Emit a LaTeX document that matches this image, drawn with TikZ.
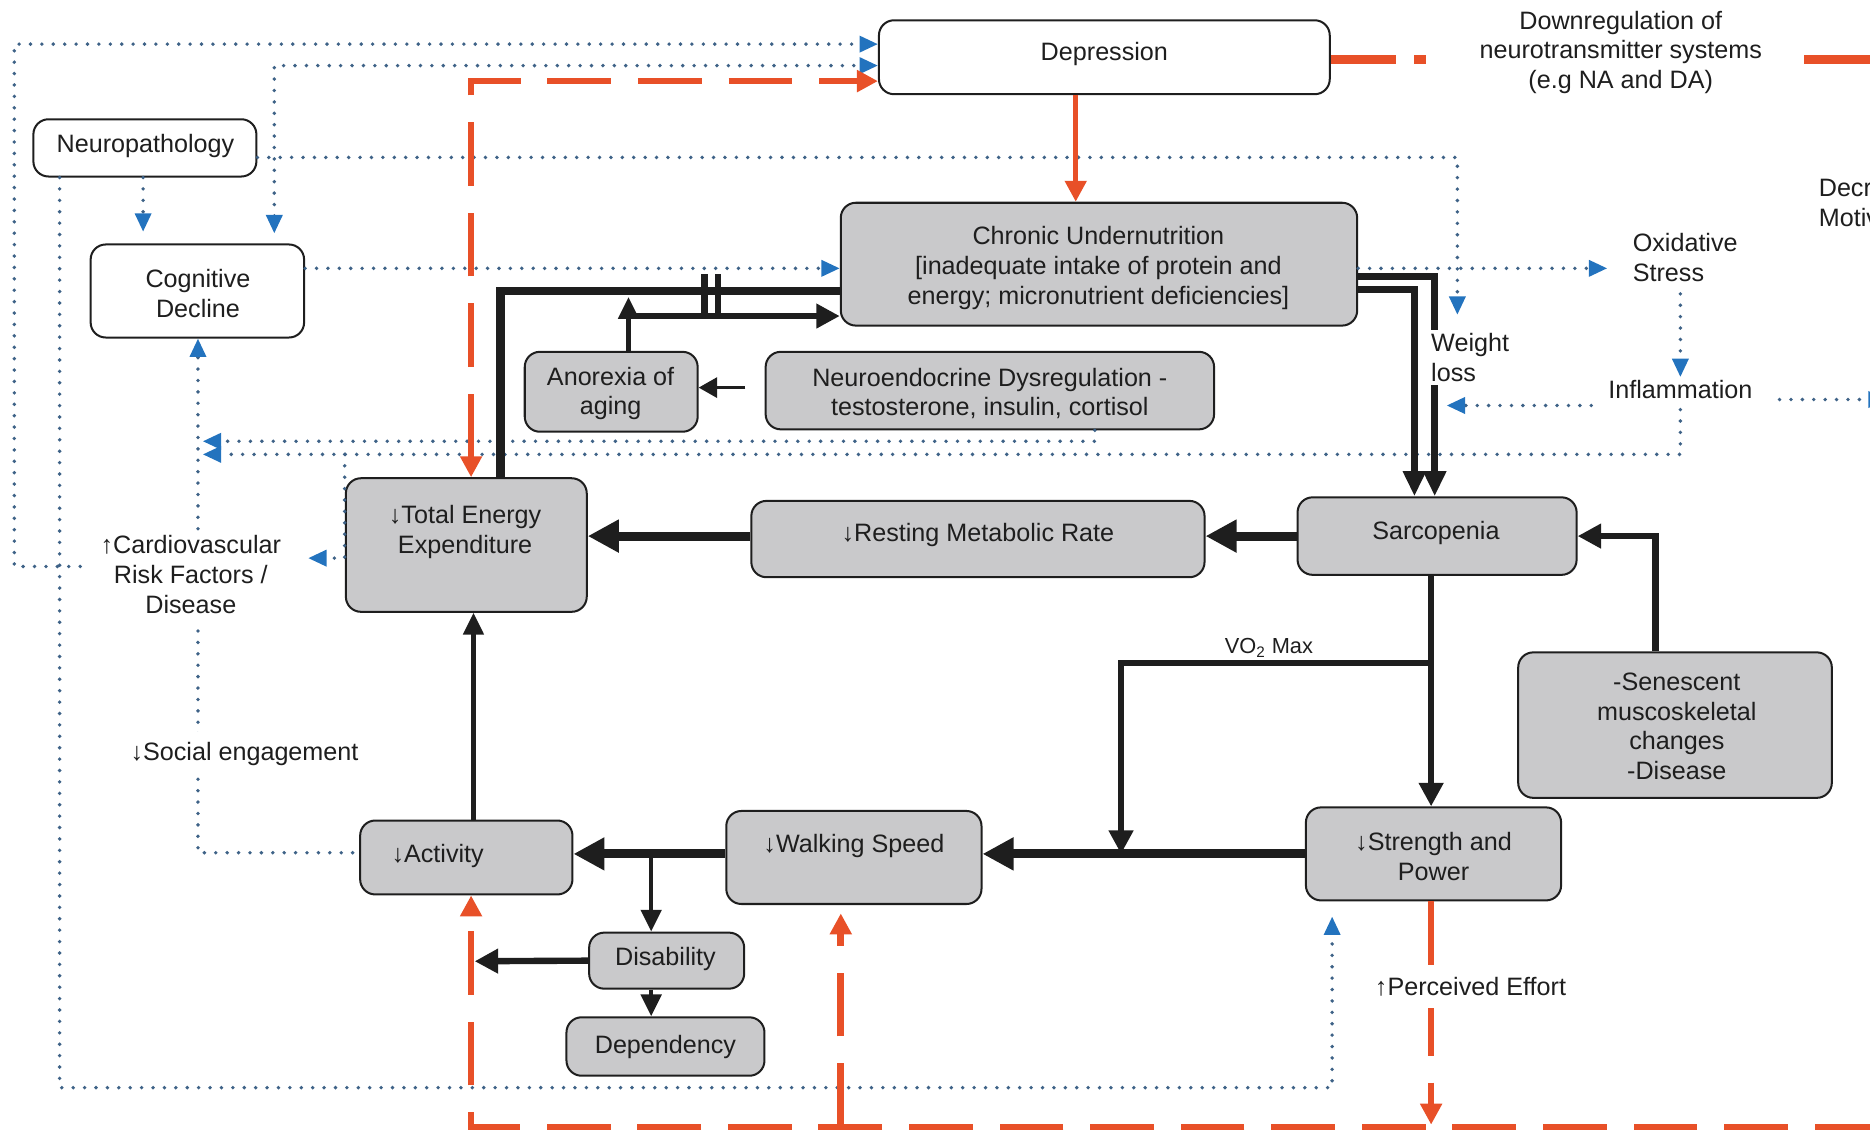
\documentclass[tikz,border=0pt]{standalone}
\usepackage{fontspec}
\setmainfont{Liberation Sans}
\usetikzlibrary{arrows.meta,fit}
\pgfdeclarelayer{fg}
\pgfsetlayers{main,fg}
\definecolor{boxgray}{RGB}{201,201,203}
\definecolor{redc}{RGB}{232,80,40}
\definecolor{bluec}{RGB}{35,115,190}
\definecolor{dotc}{RGB}{62,98,135}
\definecolor{textc}{RGB}{30,30,30}
\tikzset{
  BlueTip/.tip={Triangle[length=11pt,width=9.5pt,color=bluec]},
  RedTip/.tip={Triangle[length=12.5pt,width=12.5pt]},
  wbox/.style={draw=textc, line width=1.2pt, rounded corners=9pt, fill=white, inner sep=0pt},
  gbox/.style={wbox, fill=boxgray},
  lbl/.style={align=center, inner sep=2pt},
  blkH/.style={draw=textc, line width=5.3pt, -{Triangle[length=18.5pt,width=18.5pt]}},
  blkM/.style={draw=textc, line width=3.8pt, -{Triangle[length=14pt,width=14pt]}},
  blkL/.style={draw=textc, line width=2.6pt, -{Triangle[length=13pt,width=12pt]}},
  blkS/.style={draw=textc, line width=1.7pt, -{Triangle[length=11pt,width=12pt]}},
  redsolid/.style={draw=redc, line width=3pt, -RedTip},
  reddash/.style={draw=redc, line width=4pt, dash pattern=on 38pt off 16pt, -RedTip},
  bdot/.style={draw=dotc, line width=2.3pt, line cap=round, dash pattern=on 0pt off 6.8pt},
}
\begin{document}
\begin{tikzpicture}[x=0.025cm, y=-0.025cm,
  every node/.style={font=\fontsize{15}{17.8}\selectfont, text=textc}]
\useasboundingbox (0,0) rectangle (1568,954);
\clip (0,0) rectangle (1568,954);

% ---- boxes ----
\node[wbox, fit={(737,17)(1115,79)}] (dep) {};
\node[wbox, fit={(28,100)(215,148)}] (neuro) {};
\node[wbox, fit={(76,205)(255,283)}] (cog) {};
\node[gbox, fit={(705,170)(1138,273)}] (cu) {};
\node[gbox, fit={(440,295)(585,362)}] (anor) {};
\node[gbox, fit={(642,295)(1018,360)}] (endo) {};
\node[gbox, fit={(290,401)(492,513)}] (tee) {};
\node[gbox, fit={(630,420)(1010,484)}] (rmr) {};
\node[gbox, fit={(1088,417)(1322,482)}] (sarc) {};
\node[gbox, fit={(1273,547)(1536,669)}] (sen) {};
\node[gbox, fit={(1095,677)(1309,755)}] (str) {};
\node[gbox, fit={(609,680)(823,758)}] (ws) {};
\node[gbox, fit={(302,688)(480,750)}] (act) {};
\node[gbox, fit={(494,782)(624,829)}] (dis) {};
\node[gbox, fit={(475,853)(641,902)}] (depy) {};

% ---- texts of the boxes and free labels ----
\begin{pgfonlayer}{fg}
\node[lbl] (depT) at (926,45) {Depression};
\node[lbl] (neuroT) at (122,122) {Neuropathology};
\node[lbl] (cogT) at (166,246) {Cognitive\\Decline};
\node[lbl] (cuT) at (921,225) {Chronic Undernutrition\\{[}inadequate intake of protein and\\energy; micronutrient deficiencies]};
\node[lbl] (anorT) at (512,330) {Anorexia of\\aging};
\node[lbl] (endoT) at (830,330) {Neuroendocrine Dysregulation -\\testosterone, insulin, cortisol};
\node[lbl] (teeT) at (390,446) {↓Total Energy\\Expenditure};
\node[lbl] (rmrT) at (820,449) {↓Resting Metabolic Rate};
\node[lbl] (sarcT) at (1204,447) {Sarcopenia};
\node[lbl] (senT) at (1406,609) {-Senescent\\muscoskeletal\\changes\\-Disease};
\node[lbl] (strT) at (1202,718) {↓Strength and\\Power};
\node[lbl] (wsT) at (716,709) {↓Walking Speed};
\node[lbl] (actT) at (367,718) {↓Activity};
\node[lbl] (disT) at (558,804) {Disability};
\node[lbl] (depyT) at (558,878) {Dependency};
\node[lbl, fill=white] (nt) at (1359,44) {Downregulation of\\neurotransmitter systems\\(e.g NA and DA)};
\node[lbl, anchor=west, align=left] (mot) at (1522,170) {Decreased\\Motivation};
\node[lbl, anchor=west, align=left] (ox) at (1366,216) {Oxidative\\Stress};
\node[lbl] (infl) at (1409,327) {Inflammation};
\node[lbl, anchor=west, align=left, fill=white] (wl) at (1197,300) {Weight\\loss};
\node[lbl] (card) at (160,482) {↑Cardiovascular\\Risk Factors /\\Disease};
\node[lbl, fill=white, inner ysep=6pt] (soc) at (205,632) {↓Social engagement};
\node[lbl, font=\fontsize{13}{15}\selectfont] (vo) at (1064,543) {VO\textsubscript{2} Max};
\node[lbl, fill=white, inner ysep=7pt] (pe) at (1233,827) {↑Perceived Effort};
\end{pgfonlayer}

% ---- blue dotted links ----
\draw[bdot, -BlueTip, shorten <=10pt] (card.west |- 0,475) -- (12,475) |- (dep.west |- 0,37);
\draw[bdot, BlueTip-BlueTip, shorten <=6pt] (230,0 |- cog.north) |- (dep.west |- 0,55);
\draw[bdot, -BlueTip, shorten >=9pt] (neuro.east |- 0,132) -| (1222,0 |- wl.north);
\draw[bdot, -BlueTip, shorten >=7pt] (120,0 |- neuro.south) -- (120,0 |- cog.north);
\draw[bdot, -BlueTip, shorten >=9pt] (50,0 |- neuro.south) |- (1117,912) -- (1117,0 |- str.south);
\draw[bdot, -BlueTip] (cog.east |- 0,225) -- (cu.west |- 0,225);
\draw[bdot, -BlueTip, shorten >=13pt] (cu.east |- 0,225) -- (ox.west |- 0,225);
\draw[bdot, -BlueTip, shorten <=5pt] (1409,0 |- ox.south) -- (1409,0 |- infl.north);
\coordinate (wlIn) at (1213,340);
\draw[bdot, -BlueTip, shorten <=8pt] (infl.west |- wlIn) -- (wlIn);
\draw[bdot, -BlueTip, shorten <=14pt] (infl.east |- 0,335) -- (1582,335);
\coordinate (cvA) at (170,381);
\coordinate (cvB) at (170,370);
\draw[bdot, -BlueTip, shorten <=4pt] (1409,0 |- infl.south) |- (cvA);
\draw[bdot, -BlueTip] (918,0 |- endo.south) |- (cvB);
\coordinate (teeJ) at (289,381);
\draw[bdot, -BlueTip, shorten >=14pt] (teeJ) |- (card.east |- 0,468);
\draw[bdot, -BlueTip, shorten <=2pt] (166,0 |- card.north) -- (166,0 |- cog.south);
\draw[bdot, shorten <=8pt] (166,0 |- card.south) |- (act.west |- 0,715);

% ---- black links ----
\draw[blkH] (sarc.west) -- (sarc.west -| rmr.east);
\draw[blkH] (rmr.west |- sarc.west) -- (sarc.west -| tee.east);
\draw[blkM] (1388,0 |- sen.north) |- (sarc.east);
\draw[blkM] (1200,0 |- sarc.south) -- (1200,0 |- str.north);
\coordinate (vsplit) at (1200,556);
\coordinate (vjoin) at (940,716);
\draw[blkM] (vsplit) -| (vjoin);
\draw[blkH] (str.west) -- (str.west -| ws.east);
\draw[blkH] (ws.west |- str.west) -- (str.west -| act.east);
\draw[blkL] (546,0 |- str.west) -- (546,0 |- dis.north);
\coordinate (disL) at (398,806);
\draw[blkM] (dis.west) -- (disL);
\draw[blkL] (546,0 |- dis.south) -- (546,0 |- depy.north);
\draw[blkL] (397,0 |- act.north) -- (397,0 |- tee.south);
\draw[draw=textc, line width=5.3pt] (420,0 |- tee.north) |- (cu.west |- 0,244);
\coordinate (anUp) at (527,249);
\draw[blkL] (527,0 |- anor.north) -- (anUp);
\coordinate (anJ) at (527,265);
\draw[blkM] (anJ) -- (cu.west |- anJ);
\draw[draw=textc, line width=4pt] (591,230) -- (591,267) (602,230) -- (602,267);
\coordinate (enL) at (625,325);
\draw[blkS] (enL) -- (anor.east |- enL);
\draw[draw=textc, line width=4.3pt, -{Triangle[length=15pt,width=13pt]}] (cu.east |- 0,232) -| (1203,0 |- sarc.north);
\draw[draw=textc, line width=4.3pt, -{Triangle[length=15pt,width=13pt]}] (cu.east |- 0,243) -| (1186,0 |- sarc.north);

% ---- red links ----
\draw[redsolid] (902,0 |- dep.south) -- (902,0 |- cu.north);
\draw[draw=redc, line width=5pt, dash pattern=on 39.1pt off 10.7pt on 7.1pt off 84.3pt] (dep.east |- 0,50) -- (1570,50);
\coordinate (peEnd) at (1200,943);
\draw[reddash] (1200,0 |- str.south) -- (peEnd);
\coordinate (botR) at (1575,945);
\draw[reddash] (botR) -| (395,0 |- act.south);
\draw[reddash, shorten >=5pt] (705,945) -- (705,0 |- ws.south);
\draw[reddash, RedTip-RedTip] (395,0 |- tee.north) |- (dep.west |- 0,68);
\end{tikzpicture}
\end{document}
